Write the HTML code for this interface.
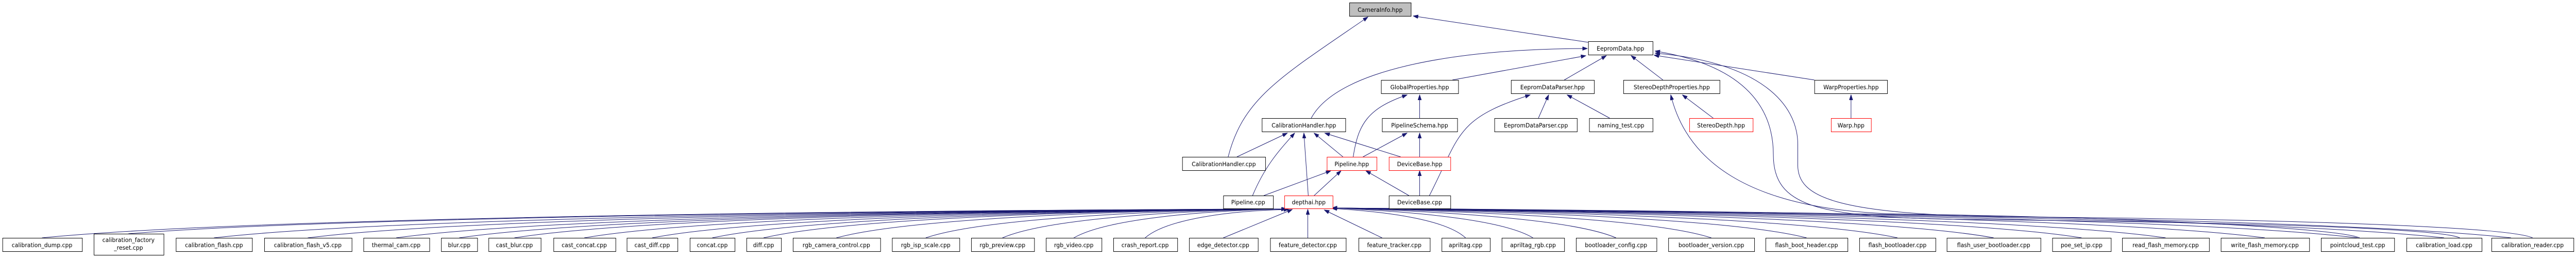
<!DOCTYPE html>
<html><head><meta charset="utf-8"><style>
html,body{margin:0;padding:0;background:#fff;width:100%;height:100%;overflow:hidden;}
svg{display:block;width:100vw;height:100vh;}
text{font-family:"DejaVu Sans","Liberation Sans",sans-serif;font-size:11.5px;fill:#000;}
.n{fill:#fff;stroke:#000;stroke-width:1;}
.r{fill:#fff;stroke:#ff0000;stroke-width:1;}
.g{fill:#bfbfbf;stroke:#000;stroke-width:1;}
.e{fill:none;stroke:#191970;stroke-width:1;marker-end:url(#a);}
</style></head><body>
<svg viewBox="0 0 5273 500" preserveAspectRatio="none" xmlns="http://www.w3.org/2000/svg" overflow="hidden">
<defs><marker id="a" markerUnits="userSpaceOnUse" markerWidth="11" markerHeight="8" refX="10" refY="3.5" orient="auto"><path d="M0,0 L10,3.5 L0,7 z" fill="#191970" stroke="#191970"/></marker></defs>

<path class="e" d="M2514,304 C2545,190 2620,150 2800,33"/>
<path class="e" d="M2532,304 L2635,258"/>
<path class="e" d="M3251,82 L2893,31"/>
<path class="e" d="M2684,229 C2740,130 3000,94 3249,94"/>
<path class="e" d="M2973,155 L3246,108"/>
<path class="e" d="M3202,155 L3288,108"/>
<path class="e" d="M3404,155 L3339,108"/>
<path class="e" d="M3714,155 L3386,107"/>
<path class="e" d="M2906,229 L2906,184"/>
<path class="e" d="M2770,304 C2780,240 2800,210 2880,184"/>
<path class="e" d="M2790,304 L2880,258"/>
<path class="e" d="M2906,304 L2906,258"/>
<path class="e" d="M2749,304 L2690,258"/>
<path class="e" d="M2867,304 L2712,258"/>
<path class="e" d="M2678,379 L2669,258"/>
<path class="e" d="M2564,379 C2590,320 2620,290 2650,258"/>
<path class="e" d="M2587,379 L2724,331"/>
<path class="e" d="M2690,379 L2745,331"/>
<path class="e" d="M2884,379 L2796,331"/>
<path class="e" d="M2906,379 L2906,331"/>
<path class="e" d="M2926,379 C2990,260 2980,230 3132,184"/>
<path class="e" d="M3149,229 L3170,184"/>
<path class="e" d="M3295,229 L3208,184"/>
<path class="e" d="M3507,229 L3444,184"/>
<path class="e" d="M3789,229 L3789,184"/>
<path class="e" d="M5035,461 C4990,440 4500,430 4000,425 C3720,420 3630,400 3630,300 C3630,200 3560,125 3388,99"/>
<path class="e" d="M5184,461 C5140,440 4700,425 4100,420 C3750,415 3680,380 3680,320 L3680,280 C3680,200 3600,120 3388,103"/>
<path class="e" d="M4830,461 C4780,440 4300,420 3900,415 C3560,410 3450,300 3420,184"/>

<path class="e" d="M86,461 C468,425 1614,408 2633,405"/>
<path class="e" d="M263,453 C618,425 1685,408 2633,405"/>
<path class="e" d="M438,461 C767,425 1755,408 2633,405"/>
<path class="e" d="M630,461 C930,425 1832,408 2633,405"/>
<path class="e" d="M811,461 C1084,425 1904,408 2633,405"/>
<path class="e" d="M940,461 C1194,425 1956,408 2633,405"/>
<path class="e" d="M1053,461 C1290,425 2001,408 2633,405"/>
<path class="e" d="M1196,461 C1412,425 2058,408 2633,405"/>
<path class="e" d="M1335,461 C1530,425 2114,408 2633,405"/>
<path class="e" d="M1458,461 C1634,425 2163,408 2633,405"/>
<path class="e" d="M1563,461 C1724,425 2205,408 2633,405"/>
<path class="e" d="M1712,461 C1850,425 2265,408 2633,405"/>
<path class="e" d="M1895,461 C2006,425 2338,408 2633,405"/>
<path class="e" d="M2052,461 C2139,425 2401,408 2633,405"/>
<path class="e" d="M2198,461 C2263,425 2459,408 2633,405"/>
<path class="e" d="M2344,461 C2387,425 2517,408 2638,406"/>
<path class="e" d="M2504,461 L2645,406"/>
<path class="e" d="M2677,461 L2677,406"/>
<path class="e" d="M2829,461 L2711,407"/>
<path class="e" d="M3000,461 C2959,425 2836,410 2727,404"/>
<path class="e" d="M3138,461 C3076,425 2891,410 2727,403"/>
<path class="e" d="M3308,461 C3221,425 2959,410 2727,403"/>
<path class="e" d="M3503,461 C3387,425 3037,410 2727,403"/>
<path class="e" d="M3698,461 C3552,425 3115,410 2727,403"/>
<path class="e" d="M3884,461 C3710,425 3190,410 2727,403"/>
<path class="e" d="M4081,461 C3878,425 3269,410 2727,403"/>
<path class="e" d="M4261,461 C4031,425 3341,410 2727,403"/>
<path class="e" d="M4433,461 C4177,425 3409,410 2727,403"/>
<path class="e" d="M4636,461 C4350,425 3491,410 2727,403"/>
<path class="e" d="M4826,461 C4511,425 3567,410 2727,403"/>
<path class="e" d="M5003,461 C4662,425 3637,410 2727,403"/>
<path class="e" d="M5140,461 C4800,425 3711,410 2727,403"/>

<rect class="g" x="2762.5" y="5.5" width="126" height="26"/><text x="2825" y="23" text-anchor="middle">CameraInfo.hpp</text>
<rect class="n" x="3251.5" y="80.5" width="132" height="26"/><text x="3317" y="98" text-anchor="middle">EepromData.hpp</text>
<rect class="n" x="2827.5" y="155.5" width="158" height="26"/><text x="2906" y="173" text-anchor="middle">GlobalProperties.hpp</text>
<rect class="n" x="3093.5" y="155.5" width="170" height="26"/><text x="3178" y="173" text-anchor="middle">EepromDataParser.hpp</text>
<rect class="n" x="3323.5" y="155.5" width="197" height="26"/><text x="3422" y="173" text-anchor="middle">StereoDepthProperties.hpp</text>
<rect class="n" x="3714.5" y="155.5" width="149" height="26"/><text x="3789" y="173" text-anchor="middle">WarpProperties.hpp</text>
<rect class="n" x="2583.5" y="229.5" width="171" height="26"/><text x="2669" y="247" text-anchor="middle">CalibrationHandler.hpp</text>
<rect class="n" x="2829.5" y="229.5" width="154" height="26"/><text x="2906" y="247" text-anchor="middle">PipelineSchema.hpp</text>
<rect class="n" x="3059.5" y="229.5" width="169" height="26"/><text x="3144" y="247" text-anchor="middle">EepromDataParser.cpp</text>
<rect class="n" x="3253.5" y="229.5" width="130" height="26"/><text x="3318" y="247" text-anchor="middle">naming_test.cpp</text>
<rect class="r" x="3458.5" y="229.5" width="130" height="26"/><text x="3523" y="247" text-anchor="middle">StereoDepth.hpp</text>
<rect class="r" x="3748.5" y="229.5" width="82" height="26"/><text x="3789" y="247" text-anchor="middle">Warp.hpp</text>
<rect class="n" x="2420.5" y="304.5" width="170" height="26"/><text x="2505" y="322" text-anchor="middle">CalibrationHandler.cpp</text>
<rect class="r" x="2716.5" y="304.5" width="102" height="26"/><text x="2767" y="322" text-anchor="middle">Pipeline.hpp</text>
<rect class="r" x="2843.5" y="304.5" width="126" height="26"/><text x="2906" y="322" text-anchor="middle">DeviceBase.hpp</text>
<rect class="n" x="2504.5" y="379.5" width="102" height="25"/><text x="2555" y="396" text-anchor="middle">Pipeline.cpp</text>
<rect class="r" x="2629.5" y="379.5" width="99" height="25"/><text x="2679" y="396" text-anchor="middle">depthai.hpp</text>
<rect class="n" x="2843.5" y="379.5" width="126" height="25"/><text x="2906" y="396" text-anchor="middle">DeviceBase.cpp</text>

<rect class="n" x="5.5" y="461.5" width="163" height="26"/><text x="86" y="479" text-anchor="middle">calibration_dump.cpp</text>
<rect class="n" x="192.5" y="453.5" width="143" height="41"/><text x="263" y="469" text-anchor="middle">calibration_factory</text><text x="263" y="484" text-anchor="middle">_reset.cpp</text>
<rect class="n" x="360.5" y="461.5" width="156" height="26"/><text x="438" y="479" text-anchor="middle">calibration_flash.cpp</text>
<rect class="n" x="541.5" y="461.5" width="179" height="26"/><text x="630" y="479" text-anchor="middle">calibration_flash_v5.cpp</text>
<rect class="n" x="744.5" y="461.5" width="135" height="26"/><text x="811" y="479" text-anchor="middle">thermal_cam.cpp</text>
<rect class="n" x="903.5" y="461.5" width="74" height="26"/><text x="940" y="479" text-anchor="middle">blur.cpp</text>
<rect class="n" x="1000.5" y="461.5" width="107" height="26"/><text x="1053" y="479" text-anchor="middle">cast_blur.cpp</text>
<rect class="n" x="1133.5" y="461.5" width="127" height="26"/><text x="1196" y="479" text-anchor="middle">cast_concat.cpp</text>
<rect class="n" x="1283.5" y="461.5" width="104" height="26"/><text x="1335" y="479" text-anchor="middle">cast_diff.cpp</text>
<rect class="n" x="1412.5" y="461.5" width="92" height="26"/><text x="1458" y="479" text-anchor="middle">concat.cpp</text>
<rect class="n" x="1528.5" y="461.5" width="71" height="26"/><text x="1563" y="479" text-anchor="middle">diff.cpp</text>
<rect class="n" x="1623.5" y="461.5" width="179" height="26"/><text x="1712" y="479" text-anchor="middle">rgb_camera_control.cpp</text>
<rect class="n" x="1826.5" y="461.5" width="138" height="26"/><text x="1895" y="479" text-anchor="middle">rgb_isp_scale.cpp</text>
<rect class="n" x="1988.5" y="461.5" width="129" height="26"/><text x="2052" y="479" text-anchor="middle">rgb_preview.cpp</text>
<rect class="n" x="2141.5" y="461.5" width="114" height="26"/><text x="2198" y="479" text-anchor="middle">rgb_video.cpp</text>
<rect class="n" x="2279.5" y="461.5" width="131" height="26"/><text x="2344" y="479" text-anchor="middle">crash_report.cpp</text>
<rect class="n" x="2434.5" y="461.5" width="141" height="26"/><text x="2504" y="479" text-anchor="middle">edge_detector.cpp</text>
<rect class="n" x="2600.5" y="461.5" width="155" height="26"/><text x="2677" y="479" text-anchor="middle">feature_detector.cpp</text>
<rect class="n" x="2781.5" y="461.5" width="146" height="26"/><text x="2854" y="479" text-anchor="middle">feature_tracker.cpp</text>
<rect class="n" x="2951.5" y="461.5" width="99" height="26"/><text x="3000" y="479" text-anchor="middle">apriltag.cpp</text>
<rect class="n" x="3074.5" y="461.5" width="128" height="26"/><text x="3138" y="479" text-anchor="middle">apriltag_rgb.cpp</text>
<rect class="n" x="3226.5" y="461.5" width="165" height="26"/><text x="3308" y="479" text-anchor="middle">bootloader_config.cpp</text>
<rect class="n" x="3415.5" y="461.5" width="176" height="26"/><text x="3503" y="479" text-anchor="middle">bootloader_version.cpp</text>
<rect class="n" x="3614.5" y="461.5" width="168" height="26"/><text x="3698" y="479" text-anchor="middle">flash_boot_header.cpp</text>
<rect class="n" x="3806.5" y="461.5" width="156" height="26"/><text x="3884" y="479" text-anchor="middle">flash_bootloader.cpp</text>
<rect class="n" x="3985.5" y="461.5" width="192" height="26"/><text x="4081" y="479" text-anchor="middle">flash_user_bootloader.cpp</text>
<rect class="n" x="4201.5" y="461.5" width="120" height="26"/><text x="4261" y="479" text-anchor="middle">poe_set_ip.cpp</text>
<rect class="n" x="4344.5" y="461.5" width="178" height="26"/><text x="4433" y="479" text-anchor="middle">read_flash_memory.cpp</text>
<rect class="n" x="4546.5" y="461.5" width="181" height="26"/><text x="4636" y="479" text-anchor="middle">write_flash_memory.cpp</text>
<rect class="n" x="4751.5" y="461.5" width="150" height="26"/><text x="4826" y="479" text-anchor="middle">pointcloud_test.cpp</text>
<rect class="n" x="4926.5" y="461.5" width="154" height="26"/><text x="5003" y="479" text-anchor="middle">calibration_load.cpp</text>
<rect class="n" x="5100.5" y="461.5" width="168" height="26"/><text x="5184" y="479" text-anchor="middle">calibration_reader.cpp</text>
</svg>
</body></html>
